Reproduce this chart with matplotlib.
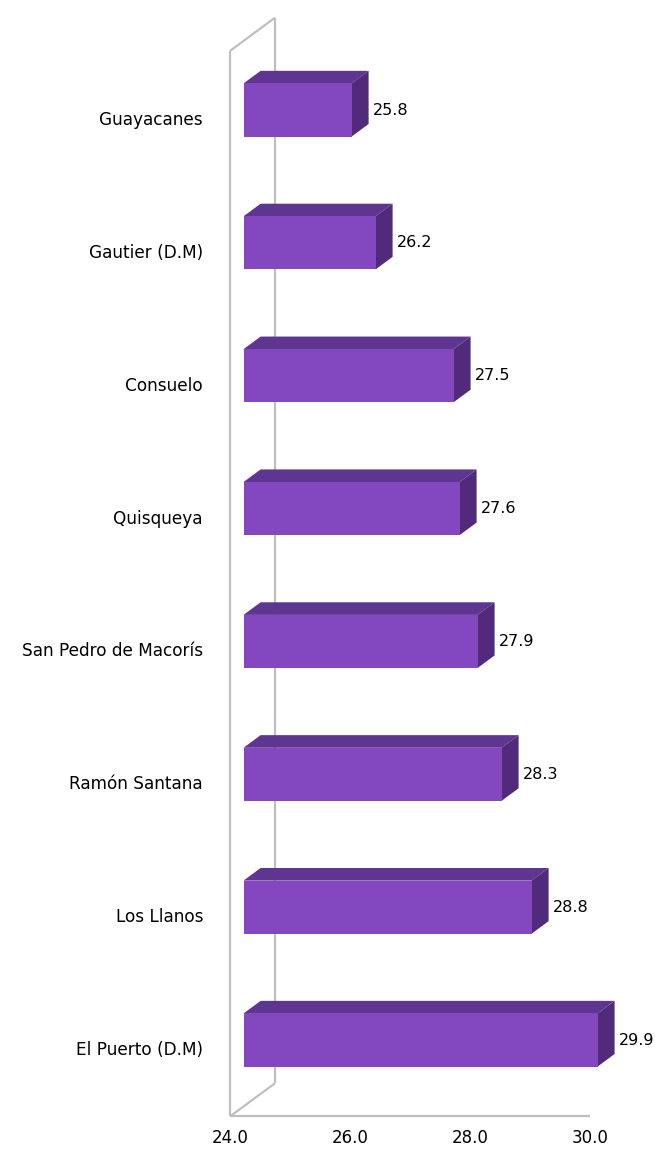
"""
Pseudo-3D horizontal bar chart: values by municipality (San Pedro de Macorís).
"""

import matplotlib
matplotlib.use('Agg')
import matplotlib.pyplot as plt

# Data (top to bottom)
categories = ['Guayacanes', 'Gautier (D.M)', 'Consuelo', 'Quisqueya',
              'San Pedro de Macorís', 'Ramón Santana', 'Los Llanos', 'El Puerto (D.M)']
values = [25.8, 26.2, 27.5, 27.6, 27.9, 28.3, 28.8, 29.9]
x_ticks = [24.0, 26.0, 28.0, 30.0]

X_MIN, X_MAX = 24.0, 30.0

# 3D look: full depth offset of the walls (data units) and bar depth slice
DEPTH_X = 0.75      # value units
DEPTH_Y = -0.25     # category units (negative = up)
BAR_FRONT = 0.30    # fraction of depth where bar front face sits
BAR_BACK = 0.68
BAR_H = 0.40

FRONT_COLOR = '#8347BF'
TOP_COLOR = '#5F3592'
SIDE_COLOR = '#522A7C'
WALL_COLOR = '#BFBFBF'

plt.rcParams['font.family'] = 'DejaVu Sans'

fig = plt.figure(figsize=(6.55, 11.57), dpi=100)
ax = fig.add_axes([0, 0, 1, 1])
ax.set_xlim(24 - 230 / 60, 24 + 425 / 60)
ax.set_ylim((1157 - 120) / 132.86, (0 - 120) / 132.86)
ax.axis('off')

n = len(categories)
y_top, y_bot = -0.52, n - 0.5

# Walls: front-left edge, back edge, connectors, floor front edge
wall = dict(color=WALL_COLOR, lw=1.6, zorder=1, solid_capstyle='butt')
ax.plot([X_MIN, X_MIN], [y_top, y_bot], **wall)
ax.plot([X_MIN + DEPTH_X] * 2, [y_top + DEPTH_Y, y_bot + DEPTH_Y], **wall)
ax.plot([X_MIN, X_MIN + DEPTH_X], [y_top, y_top + DEPTH_Y], **wall)
ax.plot([X_MIN, X_MIN + DEPTH_X], [y_bot, y_bot + DEPTH_Y], **wall)
ax.plot([X_MIN, X_MAX], [y_bot, y_bot], **wall)

fx, fy = DEPTH_X * BAR_FRONT, DEPTH_Y * BAR_FRONT
bx, by = DEPTH_X * BAR_BACK, DEPTH_Y * BAR_BACK

for i, (cat, v) in enumerate(zip(categories, values)):
    top = i - BAR_H / 2
    bot = i + BAR_H / 2
    # top face
    ax.fill([X_MIN + fx, v + fx, v + bx, X_MIN + bx],
            [top + fy, top + fy, top + by, top + by],
            color=TOP_COLOR, lw=0, zorder=2)
    # right side face
    ax.fill([v + fx, v + bx, v + bx, v + fx],
            [top + fy, top + by, bot + by, bot + fy],
            color=SIDE_COLOR, lw=0, zorder=2)
    # front face
    ax.fill([X_MIN + fx, v + fx, v + fx, X_MIN + fx],
            [top + fy, top + fy, bot + fy, bot + fy],
            color=FRONT_COLOR, lw=0, zorder=3)
    # value label
    ax.text(v + bx + 0.07, i + fy, f'{v:.1f}', ha='left', va='center',
            fontsize=11.5, color='black', zorder=4)
    # category label
    ax.text(X_MIN - 27 / 60, i, cat, ha='right', va='center',
            fontsize=12.2, color='black')

for t in x_ticks:
    ax.text(t, (1138 - 120) / 132.86, f'{t:.1f}', ha='center', va='center',
            fontsize=12, color='black')

fig.savefig('out.png', dpi=100)
